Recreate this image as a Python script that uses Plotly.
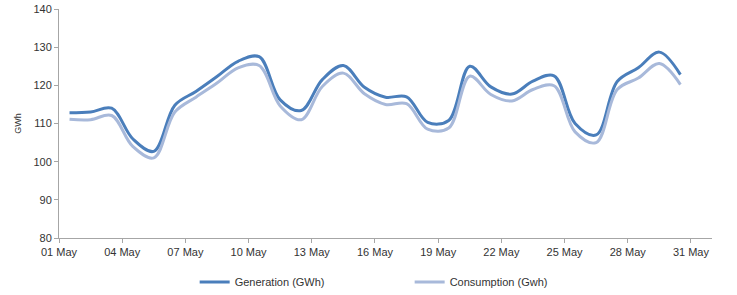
import plotly.graph_objects as go
import pandas as pd

days = list(range(1, 31))
generation = [112.8, 113.0, 114.0, 106.0, 102.7, 114.8, 118.4, 122.3, 126.3, 127.5,
              116.2, 113.4, 121.5, 125.2, 119.5, 116.9, 117.0, 110.3, 110.8, 125.0,
              119.6, 117.7, 121.1, 122.5, 110.0, 107.0, 121.0, 124.6, 128.7, 122.8]
consumption = [111.1, 111.0, 112.1, 104.0, 101.0, 113.0, 116.9, 120.6, 124.6, 125.2,
               114.6, 111.0, 119.7, 123.2, 117.8, 115.0, 115.2, 108.5, 108.8, 122.4,
               117.6, 115.9, 118.9, 119.9, 107.8, 105.0, 118.9, 121.9, 125.7, 120.2]
dates = [pd.Timestamp(2024, 5, d, 12) for d in days]

fig = go.Figure()
fig.add_trace(go.Scatter(x=dates, y=generation, mode="lines", name="Generation (GWh)",
                         line=dict(color="#4A7EBB", width=3, shape="spline", smoothing=1)))
fig.add_trace(go.Scatter(x=dates, y=consumption, mode="lines", name="Consumption (Gwh)",
                         line=dict(color="#A8B9DA", width=3, shape="spline", smoothing=1)))

font = dict(family="Liberation Sans, Arial, sans-serif", size=11, color="#333333")
fig.update_layout(
    width=737, height=295,
    margin=dict(l=59, r=25, t=9, b=57, autoexpand=False),
    paper_bgcolor="white", plot_bgcolor="white",
    font=font,
    showlegend=True,
    legend=dict(orientation="h", x=0.537, xanchor="center", yref="container",
                y=0.044, yanchor="middle",
                font=dict(size=11), itemwidth=30, entrywidth=170),
    xaxis=dict(type="date", range=["2024-05-01", "2024-06-01"], automargin=False,
               tick0="2024-05-01", dtick=3 * 86400000, tickformat="%d %b",
               showline=True, linecolor="#A6A6A6", linewidth=1,
               ticks="outside", ticklen=4, tickcolor="#A6A6A6",
               showgrid=False, zeroline=False, tickfont=font),
    yaxis=dict(range=[80, 140], dtick=10, showline=True, linecolor="#A6A6A6", linewidth=1,
               ticks="outside", ticklen=4, tickcolor="#A6A6A6", automargin=False,
               showgrid=False, zeroline=False, tickfont=font,
               title=dict(text="GWh", font=dict(size=9, color="#333333"), standoff=10)),
)
fig.write_html("out.html", config={"displayModeBar": False},
               post_script="document.body.style.margin='0';document.body.style.padding='0';")
